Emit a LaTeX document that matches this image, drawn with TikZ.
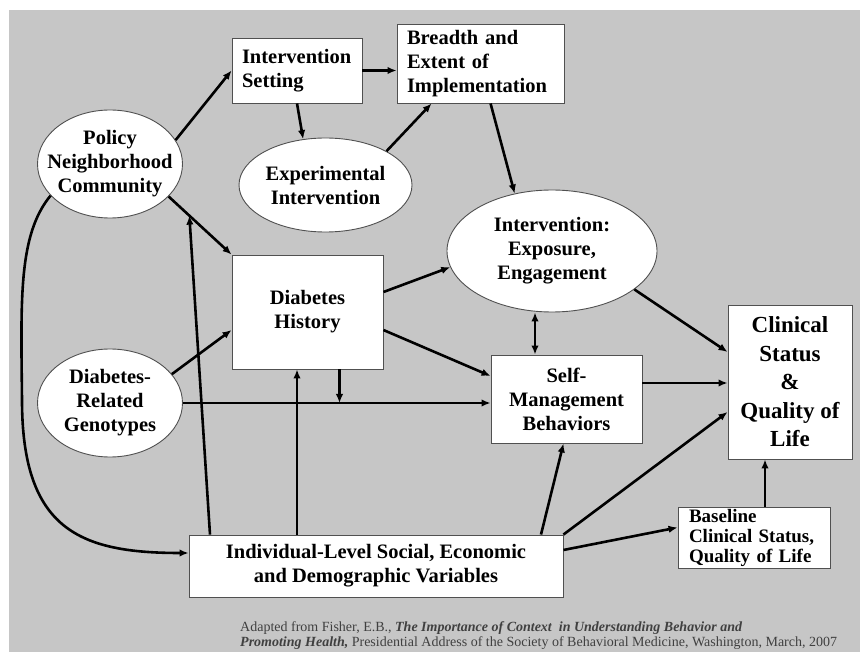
\documentclass[tikz,border=0pt]{standalone}
\usepackage{fontspec}
\setmainfont{Liberation Serif}
\usetikzlibrary{shapes.geometric,arrows.meta,calc}
\definecolor{slidegray}{HTML}{C6C6C6}
\definecolor{edgegray}{HTML}{505050}
\begin{document}
\begin{tikzpicture}[x=1pt,y=-1pt]
    \tikzset{
        box/.style={draw=edgegray,line width=0.9pt,fill=white,inner sep=0pt,align=center,
            font=\fontsize{20.5}{24}\selectfont\bfseries},
        oval/.style={ellipse,draw=edgegray,line width=0.9pt,fill=white,inner sep=0pt},
        word/.style={align=center,inner sep=0pt,font=\fontsize{20.5}{24}\selectfont\bfseries},
        arr/.style={line width=2.6pt,-{Latex[length=9pt,width=7.5pt]}},
        arrboth/.style={line width=2.6pt,{Latex[length=9pt,width=7.5pt]}-{Latex[length=9pt,width=7.5pt]}},
    }
    \useasboundingbox (0,0) rectangle (860,652);
    \fill[slidegray] (9,10) rectangle (860,652);
    % boxes
    \node[box,align=left,text width=110pt,inner xsep=10pt,minimum height=65pt] (set) at (297,70.5)
        {Intervention\\Setting};
    \node[box,align=left,text width=147pt,inner xsep=10pt,minimum height=79pt] (bre) at (480.5,63.5)
        {Breadth and\\Extent of\\Implementation};
    \node[box,minimum width=151pt,minimum height=114pt] (dh) at (307.5,312) {Diabetes\\History};
    \node[box,minimum width=151pt,minimum height=88pt] (sm) at (566.5,399)
        {Self-\\Management\\Behaviors};
    \node[box,minimum width=124pt,minimum height=154pt,font=\fontsize{23}{28.5}\selectfont\bfseries]
        (cl) at (790,382) {Clinical\\Status\\\&\\Quality of\\Life};
    \node[box,minimum width=374pt,minimum height=62pt] (ind) at (376,566)
        {Individual-Level Social, Economic\\and Demographic Variables};
    \node[box,align=left,text width=130pt,inner xsep=11pt,minimum height=61pt,
        font=\fontsize{19}{20}\selectfont\bfseries] (bas) at (754,537.5)
        {Baseline\\Clinical Status,\\Quality of Life};
    % ellipses
    \node[oval,minimum width=145pt,minimum height=108pt] (pol) at (110,164) {};
    \node[word] (polt) at (pol) {Policy\\Neighborhood\\Community};
    \node[oval,minimum width=173pt,minimum height=94pt] (exp) at (325.5,185) {};
    \node[word] (expt) at (exp) {Experimental\\Intervention};
    \node[oval,minimum width=210pt,minimum height=122pt] (ie) at (552,251) {};
    \node[word] (iet) at (ie) {Intervention:\\Exposure,\\Engagement};
    \node[oval,minimum width=145pt,minimum height=108pt] (gen) at (110,403) {};
    \node[word] (gent) at (gen) {Diabetes-\\Related\\Genotypes};
    % arrows
    \draw[arr] (pol.20) -- (set.west);
    \draw[arr] (set.east) -- (set.east -| bre.west);
    \draw[arr] (set.south) -- (exp.116);
    \draw[arr] (exp.29) -- ([xshift=35pt]bre.south west);
    \draw[arr] ([xshift=94pt]bre.south west) -- (ie.123);
    \draw[arr] (pol.-29) -- coordinate[pos=0.33] (mod) (dh.north west);
    \draw[arr] ([yshift=20pt]dh.east) -- (ie.189);
    \draw[arr] ([yshift=-18pt]dh.east) -- ([yshift=23pt]sm.west);
    \draw[arr] (gen.25) -- ([yshift=-18pt]dh.west);
    \draw[arr] (gen.east) -- (gen.east -| sm.west);
    \draw[arr] ([xshift=32pt]dh.south) -- ([xshift=32pt]dh.south |- gen.east);
    \draw[arr] ([xshift=-79pt]ind.north) -- ([xshift=-79pt]ind.north |- dh.south);
    \draw[arr] ([xshift=-166pt]ind.north) -- (mod);
    \draw[arr] (pol.208) .. controls (18,235) and (21,300) .. (22,400)
        .. controls (22,530) and (80,553) .. ([yshift=13pt]ind.west);
    \draw[arrboth] ([xshift=-17pt]ie.south) -- ([xshift=-17pt]ie.south |- sm.north);
    \draw[arr] (ie.-25) -- ([yshift=30pt]cl.west);
    \draw[arr] ([yshift=16pt]sm.east) -- ([yshift=16pt]sm.east -| cl.west);
    \draw[arr] ([xshift=165pt]ind.north) -- ([xshift=-3pt]sm.south);
    \draw[arr] (ind.north east) -- ([yshift=-30pt]cl.west);
    \draw[arr] ([yshift=16pt]ind.east) -- ([yshift=10pt]bas.west);
    \draw[arr] ([xshift=11pt]bas.north) -- ([xshift=11pt]bas.north |- cl.south);
    % source
    \node[anchor=west,align=left,inner sep=0pt,text=black!75,font=\fontsize{14}{15}\selectfont] (src)
        at (240,636) {Adapted from Fisher, E.B., \textbf{\textit{The Importance of Context\ \ in Understanding Behavior and}}\\
        \textbf{\textit{Promoting Health,}} Presidential Address of the Society of Behavioral Medicine, Washington, March, 2007};
\end{tikzpicture}
\end{document}
